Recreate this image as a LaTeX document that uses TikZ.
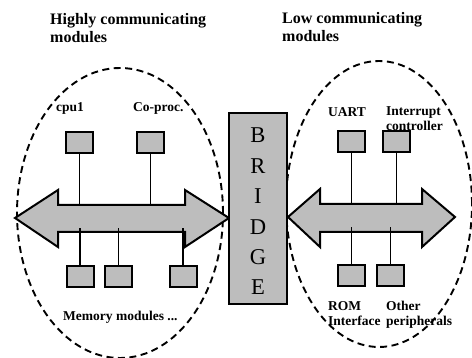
\documentclass[tikz,border=0pt]{standalone}
\usepackage{fontspec}
\setmainfont{Liberation Serif}
\usepackage{tikz}
\usepackage{xcolor}
\usetikzlibrary{shapes.geometric}

\begin{document}
\begin{tikzpicture}[x=1pt,y=-1pt,
  modbox/.style={draw,line width=2pt,fill=boxgray,minimum width=27pt,minimum height=21pt,inner sep=0pt},
  modlabel/.style={anchor=base west,inner sep=0pt,align=left,font=\bfseries\fontsize{13.5}{15}\selectfont},
  grouplabel/.style={anchor=base west,inner sep=0pt,align=left,font=\bfseries\fontsize{16}{18.5}\selectfont},
  group/.style={ellipse,draw,line width=1.9pt,dash pattern=on 7pt off 4.5pt,inner sep=0pt},
  bus/.style={draw,line width=2pt,fill=boxgray,line join=miter},
  wire/.style={line width=1.8pt},
  bridgeletter/.style={anchor=base,inner sep=0pt,font=\fontsize{22.6}{24}\selectfont}]
\definecolor{boxgray}{HTML}{BDBDBD}
\useasboundingbox (0,0) rectangle (472,358);

% the two groups of modules
\node [group,minimum width=206pt,minimum height=290pt] (lgroup) at (120,213) {};
\node [group,minimum width=186pt,minimum height=286pt] (rgroup) at (379,204) {};

% buses
\draw [bus] (15,218) -- (58,190) -- (58,205) -- (185,205) -- (185,190) -- (229,218)
  -- (185,247) -- (185,232) -- (58,232) -- (58,247) -- cycle;
\draw [bus] (288,217) -- (320,189) -- (320,204) -- (422,204) -- (422,189) -- (455,217)
  -- (422,247) -- (422,232) -- (320,232) -- (320,247) -- cycle;
\coordinate (lbustop) at (0,205);
\coordinate (lbusin) at (0,228);
\coordinate (rbustop) at (0,204);
\coordinate (rbusin) at (0,227);

% bridge
\node [draw,line width=2pt,fill=boxgray,minimum width=58pt,minimum height=191pt] (bridge) at (258,208.5) {};
\foreach \ltr/\pos in {B/0,R/1,I/2,D/3,G/4,E/5}
  {  \node [bridgeletter] (br\pos) at (258,143+30.4*\pos) {\ltr};}

% labels (base is the last line)
\node [grouplabel] (hightxt) at (50,43) {Highly communicating\\modules};
\node [grouplabel] (lowtxt) at (282,42) {Low communicating\\modules};
\node [modlabel] (cputxt) at (56,112) {cpu1};
\node [modlabel] (coptxt) at (133,112) {Co-proc.};
\node [modlabel] (uarttxt) at (328,117) {UART};
\node [modlabel] (intrtxt) at (386,131) {Interrupt\\controller};
\node [modlabel] (memtxt) at (63,321) {Memory modules ...};
\node [modlabel] (romtxt) at (328,326) {ROM\\Interface};
\node [modlabel] (othtxt) at (386,326) {Other\\peripherals};

% modules
\node [modbox] (cpu) at (79.5,142.5) {};
\node [modbox] (cop) at (150.5,142.5) {};
\node [modbox] (mema) at (80,276.5) {};
\node [modbox] (memb) at (118.5,276.5) {};
\node [modbox] (memc) at (183,276.5) {};
\node [modbox] (uart) at (351.5,142) {};
\node [modbox] (intr) at (396.5,142) {};
\node [modbox] (rom) at (351.5,275.5) {};
\node [modbox] (oth) at (390.5,275.5) {};

\foreach \m in {cpu,cop}
  {  \draw [wire] (\m) -- (\m |- lbustop);}
\foreach \m in {mema,memb,memc}
  {  \draw [wire] (\m) -- (\m |- lbusin);}
\foreach \m in {uart,intr}
  {  \draw [wire] (\m) -- (\m |- rbustop);}
\foreach \m in {rom,oth}
  {  \draw [wire] (\m) -- (\m |- rbusin);}
\end{tikzpicture}
\end{document}
